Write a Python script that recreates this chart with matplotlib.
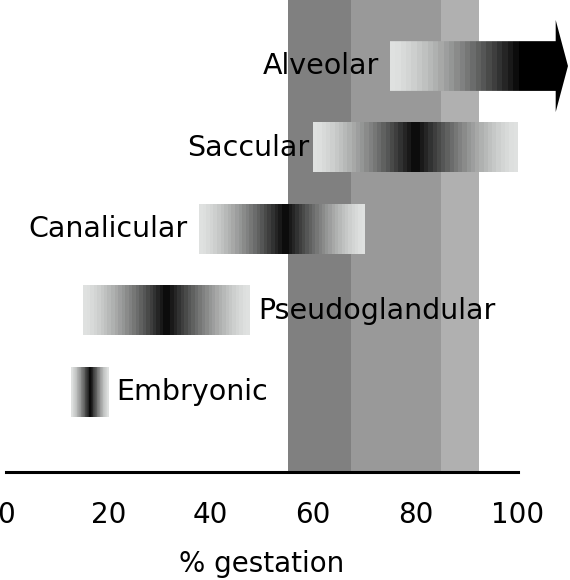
import numpy as np
import matplotlib
matplotlib.use('Agg')
import matplotlib.pyplot as plt
from matplotlib.colors import LinearSegmentedColormap
from matplotlib.patches import Polygon

# stages of lung development (% gestation)
stages = ['Embryonic', 'Pseudoglandular', 'Canalicular', 'Saccular', 'Alveolar']
starts = [12.7, 15.0, 37.7, 60.0, 75.0]
peaks = [16.4, 31.4, 54.5, 80.0, 100.0]
ends = [20.0, 47.6, 70.0, 100.0, 107.4]
fades_out = [True, True, True, True, False]
label_side = ['right', 'right', 'left', 'left', 'left']
arrow_tip = 109.8

# grey background bands
band_edges = [55.0, 67.5, 85.0, 92.5]
band_colors = ['#808080', '#999999', '#b0b0b0']

xticks = [0, 20, 40, 60, 80, 100]

plt.rcParams['font.family'] = ['DejaVu Sans']

fig = plt.figure(figsize=(5.7, 5.8), dpi=100)
ax = fig.add_axes([6 / 570, 108 / 580, 563 / 570, 472 / 580])
ax.set_xlim(0, 110)
ax.set_ylim(-0.98, 4.81)

for i in range(len(band_colors)):
    ax.axvspan(band_edges[i], band_edges[i + 1], color=band_colors[i], lw=0, zorder=0)

cmap = LinearSegmentedColormap.from_list('g', ['#dfe1e0', '#000000'])
h = 0.61
nsteps = 24

for i, name in enumerate(stages):
    s, p, e = starts[i], peaks[i], ends[i]
    right = arrow_tip if not fades_out[i] else e
    xs = np.linspace(s, right, 600)
    if fades_out[i]:
        d = np.where(xs <= p, (xs - s) / (p - s), (e - xs) / (e - p))
    else:
        d = np.where(xs <= p, (xs - s) / (p - s), 1.0)
    d = np.clip(d, 0, 1)
    d = np.floor(d * nsteps) / nsteps
    d = d ** 1.4
    im = ax.imshow(d[np.newaxis, :], cmap=cmap, vmin=0, vmax=1, aspect='auto',
                   extent=[s, right, i - h / 2, i + h / 2], interpolation='nearest', zorder=2)
    if not fades_out[i]:
        hh = 0.565
        clip = Polygon([[s, i - h / 2], [e, i - h / 2], [e, i - hh], [arrow_tip, i],
                        [e, i + hh], [e, i + h / 2], [s, i + h / 2]],
                       closed=True, transform=ax.transData, fc='none', ec='none')
        ax.add_patch(clip)
        im.set_extent([s, arrow_tip, i - hh, i + hh])
        im.set_clip_path(clip)
    if label_side[i] == 'left':
        off = -3 if name == 'Saccular' else -8
        ax.annotate(name, (s, i), xytext=(off, 0), textcoords='offset points',
                    ha='right', va='center', fontsize=20.5)
    else:
        ax.annotate(name, (e, i), xytext=(6, 0), textcoords='offset points',
                    ha='left', va='center', fontsize=20.5)

for sp in ['top', 'right', 'left']:
    ax.spines[sp].set_visible(False)
ax.spines['bottom'].set_bounds(0, 100)
ax.spines['bottom'].set_linewidth(2.2)
ax.spines['bottom'].set_zorder(3)
ax.set_yticks([])
ax.set_xticks(xticks)
ax.set_xticklabels([str(t) for t in xticks], fontsize=20)
ax.tick_params(axis='x', length=0, pad=21)
ax.set_xlabel('% gestation', fontsize=20)
ax.xaxis.set_label_coords(50 / 110, -0.165)

plt.savefig('out.png', dpi=100)
